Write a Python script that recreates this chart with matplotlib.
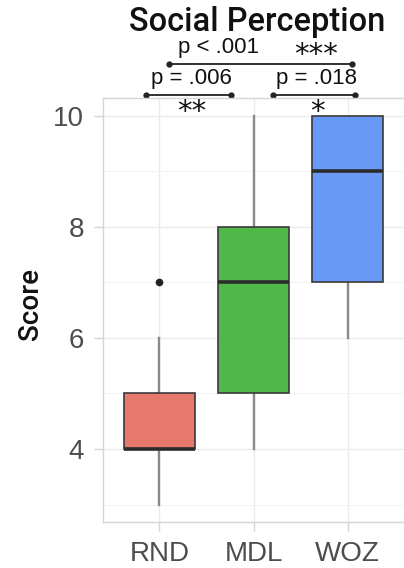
import matplotlib
matplotlib.use("Agg")
import matplotlib.pyplot as plt
from matplotlib.lines import Line2D

plt.rcParams['font.family'] = ['Liberation Sans', 'DejaVu Sans']

groups = ["RND", "MDL", "WOZ"]
colors = ["#E8776C", "#50B848", "#6A98F6"]
whislo = [3, 4, 6]
q1 = [4, 5, 7]
med = [4, 7, 9]
q3 = [5, 8, 10]
whishi = [6, 10, 10]
fliers = [[7], [], []]

# significance brackets: (x_start, x_end, p label, stars)
brackets = [(0.86, 1.76, "p = .006", "**"),
            (2.21, 3.08, "p = .018", "*"),
            (1.10, 3.05, "p < .001", "***")]

stats = []
for i, g in enumerate(groups):
    stats.append(dict(label=g, whislo=whislo[i], q1=q1[i], med=med[i],
                      q3=q3[i], whishi=whishi[i], fliers=fliers[i]))

fig = plt.figure(figsize=(4.04, 5.68), dpi=100)
ax = fig.add_axes([0.255, 0.081, 0.745, 0.7465])

bp = ax.bxp(stats, positions=[1, 2, 3], widths=0.76, patch_artist=True,
            showcaps=False,
            boxprops=dict(edgecolor="#3a3a3a", linewidth=1.2),
            medianprops=dict(color="#2b2b2b", linewidth=2.6),
            whiskerprops=dict(color="#8a8a8a", linewidth=1.7),
            flierprops=dict(marker="o", markerfacecolor="#222222",
                            markeredgecolor="#222222", markersize=4.5))
for patch, c in zip(bp["boxes"], colors):
    patch.set_facecolor(c)
for w in bp["whiskers"]:
    w.set_zorder(1)

ax.set_xlim(0.4, 3.6)
ax.set_ylim(2.685, 10.324)
ax.set_yticks([4, 6, 8, 10])
ax.set_yticks([3, 5, 7, 9], minor=True)
ax.grid(True, which="major", color="#EBEBEB", linewidth=1.0)
ax.grid(True, which="minor", axis="y", color="#F3F3F3", linewidth=0.8)
ax.set_axisbelow(True)
for s in ["left", "bottom", "top"]:
    ax.spines[s].set_color("#D5D5D5")
    ax.spines[s].set_linewidth(1.0)
ax.spines["right"].set_visible(False)
ax.tick_params(axis="both", which="major", length=6.5, width=1.0,
               color="#D5D5D5", labelsize=20, labelcolor="#4D4D4D", pad=7)
ax.tick_params(axis="y", which="minor", length=0)
ax.set_ylabel("Score", fontsize=20, color="#111111", family="Roboto",
              fontweight="medium")
ax.yaxis.set_label_coords(-0.197, 0.514)

for x0, x1, ptxt, stars in brackets:
    top = stars == "***"
    y = 10.937 if top else 10.378
    ax.add_line(Line2D([x0, x1], [y, y], color="#222222", linewidth=1.3,
                       marker="o", markersize=3.5, clip_on=False))
    if top:
        ax.text(1.195, y + 0.1, ptxt, fontsize=16, ha="left",
                va="bottom", color="#111111", clip_on=False)
        ax.text(2.66, y + 0.17, stars, fontsize=21, ha="center",
                va="center", family="DejaVu Sans", color="#111111",
                clip_on=False)
    else:
        ax.text((x0 + x1) / 2 + 0.03, y + 0.1, ptxt, fontsize=16,
                ha="center", va="bottom", color="#111111", clip_on=False)
        ax.text((x0 + x1) / 2 + 0.03, y - 0.3, stars, fontsize=21,
                ha="center", va="center", family="DejaVu Sans",
                color="#111111", clip_on=False)

fig.text(0.636, 0.962, "Social Perception", fontsize=23.5, ha="center",
         va="center", color="#111111", family="Roboto", fontweight="medium")

fig.savefig("out.png", dpi=100)
